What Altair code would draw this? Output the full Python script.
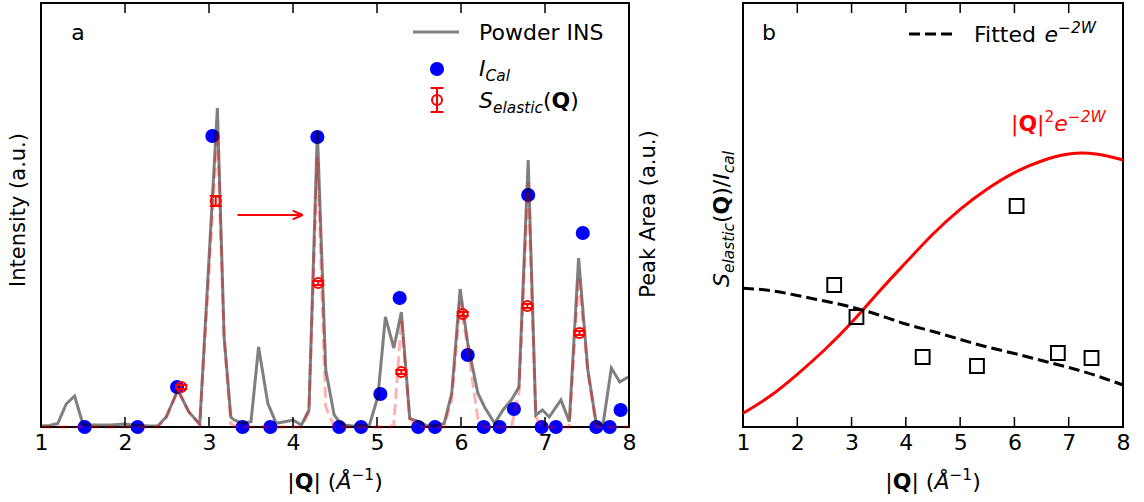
import altair as alt
import pandas as pd

FONT = "DejaVu Sans"

# ---------------- Panel a data (|Q| in 1/Å, intensity in a.u.) ----------------
ins_q = [1.00, 1.10, 1.20, 1.30, 1.40, 1.50, 1.60, 1.71, 1.83, 1.99, 2.10, 2.19, 2.29, 2.39,
         2.49, 2.63, 2.76, 2.89, 3.10, 3.18, 3.26, 3.30, 3.40, 3.50, 3.59, 3.70, 3.80, 3.90,
         4.00, 4.10, 4.19, 4.29, 4.39, 4.49, 4.55, 4.61, 4.71, 4.81, 4.91, 5.01, 5.10, 5.20,
         5.29, 5.39, 5.50, 5.60, 5.70, 5.80, 5.89, 5.99, 6.08, 6.20, 6.28, 6.40, 6.50, 6.60,
         6.69, 6.80, 6.89, 6.97, 7.05, 7.19, 7.29, 7.40, 7.51, 7.61, 7.69, 7.79, 7.89, 7.99]
ins_i = [0.01, 0.015, 0.035, 0.23, 0.31, 0.025, 0.02, 0.02, 0.02, 0.03, 0.02, 0.015, 0.01, 0.01,
         0.10, 0.37, 0.15, 0.03, 3.19, 0.90, 0.10, 0.07, 0.037, 0.053, 0.80, 0.237, 0.037, 0.053,
         0.07, 0.02, 0.17, 2.96, 0.57, 0.12, 0.053, 0.02, 0.01, 0.01, 0.02, 0.30, 1.10, 0.79,
         1.15, 0.087, 0.053, 0.01, 0.01, 0.037, 0.34, 1.38, 0.84, 0.34, 0.20, 0.037, 0.17, 0.27,
         0.40, 2.67, 0.12, 0.17, 0.10, 0.27, 0.053, 1.69, 0.57, 0.037, 0.02, 0.59, 0.45, 0.50]

fit_q = [1.00, 2.39, 2.49, 2.63, 2.76, 2.89, 3.10, 3.18, 3.26, 3.35, 4.10, 4.19, 4.29, 4.39,
         4.49, 5.15, 5.20, 5.29, 5.39, 5.50, 5.80, 5.89, 5.99, 6.08, 6.20, 6.28, 6.60, 6.69,
         6.80, 6.89, 6.97, 7.29, 7.40, 7.51, 7.61, 8.00]
fit_i = [0, 0, 0.09, 0.37, 0.15, 0.02, 2.95, 0.88, 0.03, 0, 0, 0.15, 2.70, 0.20,
         0, 0, 0.02, 1.07, 0.08, 0, 0, 0.28, 1.24, 0.80, 0.09, 0, 0, 0.35,
         2.45, 0.10, 0, 0, 1.50, 0.55, 0, 0]

ical_q = [1.52, 2.15, 2.62, 3.04, 3.40, 3.73, 4.29, 4.55, 4.81, 5.04, 5.27, 5.49,
          5.69, 6.08, 6.27, 6.46, 6.63, 6.80, 6.96, 7.13, 7.45, 7.61, 7.77, 7.90]
ical_i = [0, 0, 0.40, 2.91, 0, 0, 2.90, 0, 0, 0.33, 1.29, 0,
          0, 0.72, 0, 0, 0.18, 2.32, 0, 0, 1.94, 0, 0, 0.17]

sel_q = [2.67, 3.08, 4.30, 5.29, 6.02, 6.79, 7.41]
sel_i = [0.40, 2.26, 1.44, 0.55, 1.13, 1.21, 0.94]
sel_err = [0.02, 0.05, 0.02, 0.02, 0.02, 0.02, 0.02]

# annotation arrow (shaft start/end, head)
arrow_q = [3.34, 4.115]
arrow_i = 2.12
head_q = 3.996
head_di = 0.043

# ---------------- Panel b data ----------------
ratio_q = [2.68, 3.09, 4.31, 5.31, 6.04, 6.80, 7.42]
ratio_v = [1.42, 1.10, 0.70, 0.61, 2.21, 0.74, 0.69]

curve_q = [1.0, 1.5, 2.0, 2.5, 3.0, 3.5, 4.0, 4.5, 5.0, 5.5, 6.0, 6.5, 7.0, 7.5, 8.0]
dw_fit = [1.387, 1.365, 1.315, 1.26, 1.20, 1.12, 1.03, 0.955, 0.876, 0.80, 0.735, 0.665, 0.595, 0.515, 0.42]
q2_dw = [0.137, 0.31, 0.527, 0.77, 1.044, 1.35, 1.644, 1.93, 2.177, 2.38, 2.544, 2.66, 2.73, 2.73, 2.67]

tick_q = [2, 3, 4, 5, 6, 7]
axis_q = [1, 2, 3, 4, 5, 6, 7, 8]

# ---------------- helpers ----------------
WA, HA = 588, 424
WB, HB = 380, 424
ONE = pd.DataFrame({"k": [0]})

CW = {'a': .613, 'c': .550, 'e': .615, 'i': .278, 'l': .278, 's': .521, 't': .392, 'S': .635,
      'I': .295, 'C': .698, '(': .390, ')': .390, '/': .337, '|': .337, ' ': .318, 'Å': .684,
      '−': .838, '1': .636, '2': .636, 'W': .989, 'F': .575, 'd': .635, 'Q': .787}
CWB = {'Q': .850}


def tw(s, size, bold=False):
    return sum((CWB.get(c, CW.get(c, .6)) if bold else CW.get(c, .6)) for c in s) * size


def T(text, x, y, size=22, italic=False, bold=False, color="black", angle=0,
      align="left", baseline="alphabetic"):
    kw = dict(text=text, font=FONT, fontSize=size, color=color, align=align, baseline=baseline)
    if italic:
        kw["fontStyle"] = "italic"
    if bold:
        kw["fontWeight"] = "bold"
    if angle:
        kw["angle"] = angle
    return alt.Chart(ONE).mark_text(**kw).encode(x=alt.value(x), y=alt.value(y))


def rich(pieces, x, y, color="black", center=False, vertical=False):
    widths = [tw(t, s, b) for (t, s, i, b, sh) in pieces]
    total = sum(widths)
    pos = -total / 2 if center else 0
    out = []
    for (t, s, i, b, sh), w in zip(pieces, widths):
        lead = len(t) - len(t.lstrip(" "))
        off = lead * CW[' '] * s
        txt = t.strip(" ")
        if txt:
            if vertical:
                out.append(T(txt, x + sh, y - pos - off, s, i, b, color, angle=270))
            else:
                out.append(T(txt, x + pos + off, y + sh, s, i, b, color))
        pos += w
    return out


M, SUB = 22, 15.4
XTITLE = [("|", M, False, False, 0), ("Q", M, False, True, 0), ("|", M, False, False, 0),
          (" (", M, False, False, 0), ("Å", M, True, False, 0), ("−1", SUB, False, False, -9.5),
          (")", M, False, False, 0)]


def xscale_axis():
    return alt.X("q:Q", scale=alt.Scale(domain=[1, 8], nice=False, zero=False),
                 axis=alt.Axis(values=axis_q, format="d", title=None, ticks=False, tickSize=0,
                               domain=False, grid=False, labelPadding=5, labelFontSize=22,
                               labelFlush=False, labelOverlap=False,
                               labelFont=FONT, labelColor="black"))


XQ = alt.X("q:Q", scale=alt.Scale(domain=[1, 8], nice=False, zero=False))


def inward_ticks(h):
    d = pd.DataFrame({"q": tick_q})
    top = alt.Chart(d).mark_rule(color="black", strokeWidth=1.5).encode(
        x=XQ, y=alt.value(0), y2=alt.value(10))
    bot = alt.Chart(d).mark_rule(color="black", strokeWidth=1.5).encode(
        x=XQ, y=alt.value(h - 10), y2=alt.value(h))
    return [top, bot]


CAP = "M-1,0L1,0"

# ---------------- Panel a ----------------
YA = alt.Y("i:Q", scale=alt.Scale(domain=[0, 4.24], nice=False, zero=True), axis=None)

df_ical = pd.DataFrame({"q": ical_q, "i": ical_i})
df_ins = pd.DataFrame({"q": ins_q, "i": ins_i})
df_fit = pd.DataFrame({"q": fit_q, "i": fit_i})
df_sel = pd.DataFrame({"q": sel_q, "i": sel_i, "e": sel_err})
df_sel["lo"] = df_sel["i"] - df_sel["e"]
df_sel["hi"] = df_sel["i"] + df_sel["e"]

dots = alt.Chart(df_ical).mark_circle(size=200, color="#0000ff", opacity=1).encode(x=xscale_axis(), y=YA)
ins_line = alt.Chart(df_ins).mark_line(color="black", opacity=0.5, strokeWidth=3).encode(x=XQ, y=YA)
fit_line = alt.Chart(df_fit).mark_line(color="red", opacity=0.3, strokeWidth=3,
                                       strokeDash=[11, 5]).encode(x=XQ, y=YA)
err_bar = alt.Chart(df_sel).mark_rule(color="red", strokeWidth=2).encode(
    x=XQ, y=alt.Y("lo:Q", scale=alt.Scale(domain=[0, 4.24], nice=False), axis=None), y2="hi:Q")
cap_lo = alt.Chart(df_sel).mark_point(shape=CAP, size=144, color="red", strokeWidth=2, filled=False,
                                      opacity=1).encode(x=XQ, y=alt.Y("lo:Q", axis=None))
cap_hi = alt.Chart(df_sel).mark_point(shape=CAP, size=144, color="red", strokeWidth=2, filled=False,
                                      opacity=1).encode(x=XQ, y=alt.Y("hi:Q", axis=None))
sel_pts = alt.Chart(df_sel).mark_point(shape="circle", size=100, color="red", strokeWidth=2,
                                       filled=False, opacity=1).encode(x=XQ, y=YA)

df_arrow = pd.DataFrame({
    "q": [arrow_q[0], head_q, head_q],
    "q2": [arrow_q[1], arrow_q[1], arrow_q[1]],
    "i": [arrow_i, arrow_i + head_di, arrow_i - head_di],
    "i2": [arrow_i, arrow_i, arrow_i],
})
arrow = alt.Chart(df_arrow).mark_rule(color="red", strokeWidth=2).encode(
    x=XQ, x2="q2:Q", y=alt.Y("i:Q", axis=None), y2="i2:Q")

leg_a = [
    alt.Chart(ONE).mark_rule(color="black", opacity=0.5, strokeWidth=3).encode(
        x=alt.value(372), x2=alt.value(418), y=alt.value(29)),
    T("Powder INS", 438, 37, 22),
    alt.Chart(ONE).mark_circle(size=200, color="#0000ff", opacity=1).encode(x=alt.value(396), y=alt.value(66)),
    alt.Chart(ONE).mark_rule(color="red", strokeWidth=2).encode(
        x=alt.value(396), y=alt.value(85), y2=alt.value(109)),
    alt.Chart(ONE).mark_point(shape=CAP, size=169, color="red", strokeWidth=2, filled=False,
                              opacity=1).encode(x=alt.value(396), y=alt.value(85)),
    alt.Chart(ONE).mark_point(shape=CAP, size=169, color="red", strokeWidth=2, filled=False,
                              opacity=1).encode(x=alt.value(396), y=alt.value(109)),
    alt.Chart(ONE).mark_point(shape="circle", size=100, color="red", strokeWidth=2, filled=False,
                              opacity=1).encode(x=alt.value(396), y=alt.value(97)),
]
leg_a += rich([("I", M, True, False, 0), ("Cal", SUB, True, False, 4.5)], 438, 73)
leg_a += rich([("S", M, True, False, 0), ("elastic", SUB, True, False, 4.5), ("(", M, False, False, 0),
               ("Q", M, False, True, 0), (")", M, False, False, 0)], 438, 105)

texts_a = [
    T("a", 37, 30, 22, align="center", baseline="middle"),
    T("Intensity (a.u.)", -22.5, 207, 21, angle=270, align="center", baseline="middle"),
]
texts_a += rich(XTITLE, WA / 2, 486, center=True)

panel_a = alt.layer(dots, ins_line, fit_line, err_bar, cap_lo, cap_hi, sel_pts, arrow,
                    *leg_a, *texts_a, *inward_ticks(HA)).properties(width=WA, height=HA)

# ---------------- Panel b ----------------
YB = alt.Y("v:Q", scale=alt.Scale(domain=[0, 4.24], nice=False, zero=True), axis=None)
df_curve = pd.DataFrame({"q": curve_q, "dw": dw_fit, "q2dw": q2_dw})
df_ratio = pd.DataFrame({"q": ratio_q, "v": ratio_v})

red_curve = alt.Chart(df_curve).mark_line(color="red", strokeWidth=3, interpolate="natural").encode(
    x=xscale_axis(), y=alt.Y("q2dw:Q", scale=alt.Scale(domain=[0, 4.24], nice=False), axis=None))
dash_curve = alt.Chart(df_curve).mark_line(color="black", strokeWidth=3, strokeDash=[11, 5],
                                           interpolate="natural").encode(x=XQ, y=alt.Y("dw:Q", axis=None))
squares = alt.Chart(df_ratio).mark_point(shape="square", size=190, color="black", strokeWidth=2,
                                         filled=False, opacity=1).encode(x=XQ, y=YB)

texts_b = [
    T("b", 26, 30, 22, align="center", baseline="middle"),
    alt.Chart(ONE).mark_rule(color="black", strokeWidth=3, strokeDash=[11, 5]).encode(
        x=alt.value(166), x2=alt.value(211), y=alt.value(31)),
    T("Fitted", 231, 39, 22),
    T("Peak Area (a.u.)", -94, 211, 21, angle=270, align="center", baseline="middle"),
]
texts_b += rich([("e", M, True, False, 0), ("−2W", SUB, True, False, -9.5)], 231 + tw("Fitted ", M), 39)
texts_b += rich([("|", M, False, False, 0), ("Q", M, False, True, 0), ("|", M, False, False, 0),
                 ("2", SUB, False, False, -9.5), ("e", M, True, False, 0), ("−2W", SUB, True, False, -9.5)],
                268, 128, color="red")
texts_b += rich([("S", M, True, False, 0), ("elastic", SUB, True, False, 4.5), ("(", M, False, False, 0),
                 ("Q", M, False, True, 0), (")/", M, False, False, 0), ("I", M, True, False, 0),
                 ("cal", SUB, True, False, 4.5)], -14, 284, vertical=True)
texts_b += rich(XTITLE, WB / 2, 486, center=True)

panel_b = alt.layer(red_curve, dash_curve, squares, *texts_b, *inward_ticks(HB)).properties(
    width=WB, height=HB)

chart = alt.hconcat(panel_a, panel_b, spacing=114, bounds="flush").configure_view(
    stroke="black", strokeWidth=2).properties(
    padding={"left": 6, "top": 1, "right": 0, "bottom": 0}, background="white")

chart.save("out.html", embed_options={"renderer": "svg", "actions": False})
